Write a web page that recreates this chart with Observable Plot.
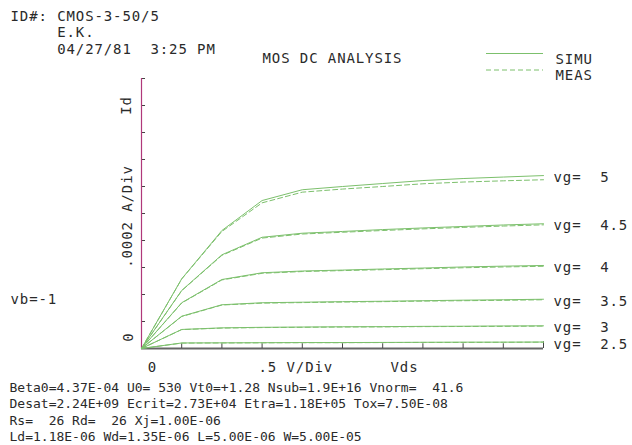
<!DOCTYPE html>
<html><head><meta charset="utf-8">
<script src="https://cdn.jsdelivr.net/npm/d3@7"></script>
<script src="https://cdn.jsdelivr.net/npm/@observablehq/plot@0.6"></script>
<style>
body{margin:0;background:#fff;}
#chart svg{display:block;}
svg text{white-space:pre;}
[font-size="14"]{letter-spacing:0.9px;}
</style></head><body><div id="chart"></div>
<script>
// Vds sample points (V)
const vds = [0, 0.5, 1.0, 1.5, 2.0, 2.5, 3.0, 3.5, 4.0, 4.5, 5.0];
const vgLevels = ["5", "4.5", "4", "3.5", "3", "2.5"];
// Id in mA, simulated
const simu5  = [0, 0.516, 0.874, 1.096, 1.176, 1.200, 1.222, 1.244, 1.259, 1.270, 1.281];
const simu45 = [0, 0.430, 0.694, 0.824, 0.854, 0.867, 0.881, 0.893, 0.904, 0.915, 0.924];
const simu4  = [0, 0.339, 0.511, 0.561, 0.574, 0.581, 0.589, 0.596, 0.604, 0.610, 0.615];
const simu35 = [0, 0.239, 0.324, 0.339, 0.343, 0.347, 0.350, 0.354, 0.358, 0.361, 0.365];
const simu3  = [0, 0.141, 0.153, 0.157, 0.159, 0.161, 0.162, 0.164, 0.165, 0.167, 0.168];
const simu25 = [0, 0.041, 0.042, 0.043, 0.044, 0.044, 0.045, 0.046, 0.047, 0.047, 0.048];
// Id in mA, measured
const meas5  = [0, 0.515, 0.867, 1.079, 1.158, 1.181, 1.200, 1.220, 1.233, 1.242, 1.250];
const meas45 = [0, 0.428, 0.690, 0.818, 0.848, 0.861, 0.874, 0.886, 0.897, 0.907, 0.916];
const meas4  = [0, 0.337, 0.508, 0.557, 0.570, 0.577, 0.584, 0.591, 0.598, 0.604, 0.609];
const meas35 = [0, 0.237, 0.322, 0.336, 0.340, 0.344, 0.347, 0.351, 0.354, 0.357, 0.361];
const meas3  = [0, 0.140, 0.151, 0.155, 0.157, 0.159, 0.160, 0.162, 0.163, 0.164, 0.166];
const meas25 = [0, 0.040, 0.041, 0.042, 0.043, 0.043, 0.044, 0.045, 0.045, 0.046, 0.047];
const simuSeries = [simu5, simu45, simu4, simu35, simu3, simu25];
const measSeries = [meas5, meas45, meas4, meas35, meas3, meas25];
// axis divisions
const xTicks = [0.5, 1.0, 1.5, 2.0, 2.5, 3.0, 3.5, 4.0, 4.5];
const yTicks = [0.2, 0.4, 0.6, 0.8, 1.0, 1.2, 1.4, 1.6, 1.8, 2.0];
const headerLines = ["ID#: CMOS-3-50/5", "     E.K.", "     04/27/81  3:25 PM"];
const titleText = "MOS DC ANALYSIS";
const legendItems = ["SIMU", "MEAS"];
const paramLines = [
  "Beta0=4.37E-04 U0= 530 Vt0=+1.28 Nsub=1.9E+16 Vnorm=  41.6",
  "Desat=2.24E+09 Ecrit=2.73E+04 Etra=1.18E+05 Tox=7.50E-08",
  "Rs=  26 Rd=  26 Xj=1.00E-06",
  "Ld=1.18E-06 Wd=1.35E-06 L=5.00E-06 W=5.00E-05"
];
const bulkText = "vb=-1";
const yLabelText = ".0002 A/Div";
const yNameText = "Id";
const xLabelText = ".5 V/Div";
const xNameText = "Vds";
const zeroText = "0";

const green = "#7cc06c";
const ink = "#2a2a2a";

const simuRows = [], measRows = [];
vgLevels.forEach((vg, i) => {
  vds.forEach((v, j) => {
    simuRows.push({vg, vds: v, id: simuSeries[i][j]});
    measRows.push({vg, vds: v, id: measSeries[i][j]});
  });
});
const endRows = simuRows.filter(d => d.vds === 5);

function note(txt, o) {
  return Plot.text([txt], {text: d => d, fill: ink, fontSize: 14, lineAnchor: "middle", textAnchor: "middle", ...o});
}

const plot = Plot.plot({
  width: 632, height: 445,
  marginLeft: 141, marginRight: 89, marginTop: 78, marginBottom: 97,
  style: {fontFamily: "DejaVu Sans Mono", background: "#fff"},
  x: {domain: [0, 5], axis: null},
  y: {domain: [0, 2], axis: null},
  marks: [
    Plot.ruleY([0], {x1: 0, x2: 5, stroke: "#666", strokeWidth: 2}),
    Plot.ruleX(xTicks, {y1: 0, y2: 0.035, stroke: "#444"}),
    Plot.ruleX([5], {y1: 0, y2: 0.05, stroke: "#444"}),
    Plot.ruleY(yTicks, {x1: 0, x2: 0.05, stroke: "#444"}),
    Plot.ruleX([0], {y1: 0, y2: 2, stroke: "#b0387a", strokeWidth: 1.2}),
    Plot.line(simuRows, {x: "vds", y: "id", z: "vg", stroke: green, strokeWidth: 1}),
    Plot.line(measRows, {x: "vds", y: "id", z: "vg", stroke: green, strokeWidth: 1, strokeDasharray: "5,3"}),
    Plot.text(endRows, {x: "vds", y: "id", text: d => "vg=  " + d.vg, dx: 10, dy: 2, textAnchor: "start", lineAnchor: "middle", fill: ink, fontSize: 14}),
    note(headerLines.join("\n"), {frameAnchor: "top-left", dx: -131, dy: -46.5, textAnchor: "start", lineHeight: 1.18}),
    note(titleText, {frameAnchor: "top-left", dx: 121, dy: -20, textAnchor: "start"}),
    note(legendItems.join("\n"), {frameAnchor: "top-right", dx: 12, dy: -11.75, textAnchor: "start", lineHeight: 1.18}),
    note(yNameText, {frameAnchor: "top-left", dx: -15, dy: 27, rotate: -90}),
    note(yLabelText, {frameAnchor: "left", dx: -14, dy: 3, rotate: -90}),
    note(zeroText, {frameAnchor: "bottom-left", dx: -12.5, dy: -11.5, rotate: -90}),
    note(zeroText, {frameAnchor: "bottom-left", dx: 11, dy: 19}),
    note(xLabelText, {frameAnchor: "bottom-left", dx: 117, dy: 19, textAnchor: "start"}),
    note(xNameText, {frameAnchor: "bottom-left", dx: 249, dy: 19, textAnchor: "start"}),
    note(bulkText, {frameAnchor: "left", dx: -131, dy: 86, textAnchor: "start"}),
    Plot.text([paramLines.join("\n")], {text: d => d, frameAnchor: "bottom-left", dx: -132, dy: 62.5, textAnchor: "start", lineAnchor: "middle", fontSize: 13, lineHeight: 1.27, fill: ink})
  ]
});

// legend sample lines
const sx = plot.scale("x"), sy = plot.scale("y");
const xRight = sx.apply(5), yTop = sy.apply(2);
const svgSel = d3.select(plot);
legendItems.forEach((name, i) => {
  svgSel.append("line")
    .attr("x1", xRight - 57).attr("x2", xRight)
    .attr("y1", yTop - 24.5 + i * 16.5).attr("y2", yTop - 24.5 + i * 16.5)
    .attr("stroke", green).attr("stroke-width", 1)
    .attr("stroke-dasharray", i === 1 ? "5,3" : null);
});
document.getElementById("chart").append(plot);
</script></body></html>
